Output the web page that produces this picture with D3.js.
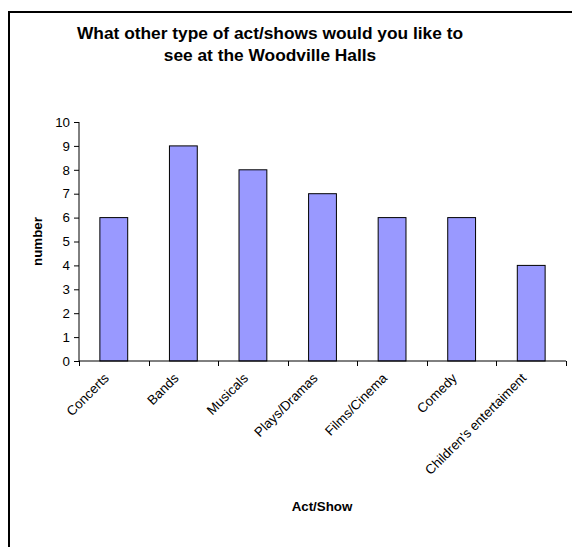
<!DOCTYPE html>
<html>
<head>
<meta charset="utf-8">
<script src="https://cdn.jsdelivr.net/npm/d3@7"></script>
<style>
  body { margin: 0; background: #fff; overflow: hidden; }
  svg { display: block; }
  svg text { font-family: "Liberation Sans", Arial, sans-serif; fill: #000; }
</style>
</head>
<body>
<div id="container"></div>
<script>
// chart data
let categories = ["Concerts", "Bands", "Musicals", "Plays/Dramas", "Films/Cinema", "Comedy", "Children's entertaiment"];
let counts = [6, 9, 8, 7, 6, 6, 4];
let yTicks = [0, 1, 2, 3, 4, 5, 6, 7, 8, 9, 10];
let titleLines = ["What other type of act/shows would you like to", "see at the Woodville Halls"];

//Width and height
let w = 572;
let h = 547;

let svg = d3.select("#container")
  .append("svg")
  .attr("width", w)
  .attr("height", h);

// outer chart frame - only its top and left edges fall inside the picture
svg.append("path")
  .attr("d", "M9," + h + "V12H" + w)
  .attr("fill", "none")
  .attr("stroke", "#000")
  .attr("stroke-width", 2);

// scales
let x = d3.scaleBand()
  .domain(categories)
  .range([79, 566])
  .paddingInner(0.6)
  .paddingOuter(0.3);

let y = d3.scaleLinear()
  .domain([0, 10])
  .range([361, 122]);

// title
svg.append("text")
  .attr("text-anchor", "middle")
  .style("font-size", "17.33px")
  .style("font-weight", "bold")
  .selectAll("tspan")
  .data(titleLines)
  .enter()
  .append("tspan")
    .attr("x", 270)
    .attr("y", (d, i) => 38.5 + i * 22.5)
    .text(d => d);

// bars
svg.append("g")
  .selectAll("rect")
  .data(counts)
  .enter()
  .append("rect")
    .attr("x", (d, i) => x(categories[i]))
    .attr("y", d => y(d))
    .attr("width", x.bandwidth())
    .attr("height", d => y(0) - y(d))
    .attr("fill", "#9999ff")
    .attr("stroke", "#000")
    .attr("stroke-width", 1);

// y axis
let yAxis = svg.append("g")
  .attr("transform", "translate(79,0)")
  .call(d3.axisLeft(y).tickValues(yTicks).tickSize(5).tickPadding(4));
yAxis.selectAll("text").style("font-size", "13.33px");
yAxis.select(".domain").attr("d", "M0," + y(10) + "V" + y(0));

// x axis: ticks sit on the category boundaries
let bounds = categories.map((c, i) => 79 + i * x.step()).concat([566]);
let xAxisG = svg.append("g")
  .attr("transform", "translate(0," + y(0) + ")");
xAxisG.append("line")
  .attr("x1", 79).attr("x2", 566)
  .attr("stroke", "#000");
xAxisG.selectAll(".tick")
  .data(bounds)
  .enter()
  .append("line")
    .attr("x1", d => Math.round(d) + 0.5)
    .attr("x2", d => Math.round(d) + 0.5)
    .attr("y1", 0)
    .attr("y2", 5)
    .attr("stroke", "#000");

// rotated category labels
xAxisG.selectAll(".lab")
  .data(categories)
  .enter()
  .append("text")
    .attr("text-anchor", "end")
    .style("font-size", "13.33px")
    .attr("transform", d => "translate(" + (x(d) + x.bandwidth() / 2 - 4) + ",18) rotate(-45)")
    .text(d => d);

// axis titles
svg.append("text")
  .attr("x", 322)
  .attr("y", 511)
  .attr("text-anchor", "middle")
  .style("font-size", "13.33px")
  .style("font-weight", "bold")
  .text("Act/Show");

svg.append("text")
  .attr("transform", "translate(41.5," + ((y(0) + y(10)) / 2) + ") rotate(-90)")
  .attr("text-anchor", "middle")
  .style("font-size", "13.33px")
  .style("font-weight", "bold")
  .text("number");
</script>
</body>
</html>
